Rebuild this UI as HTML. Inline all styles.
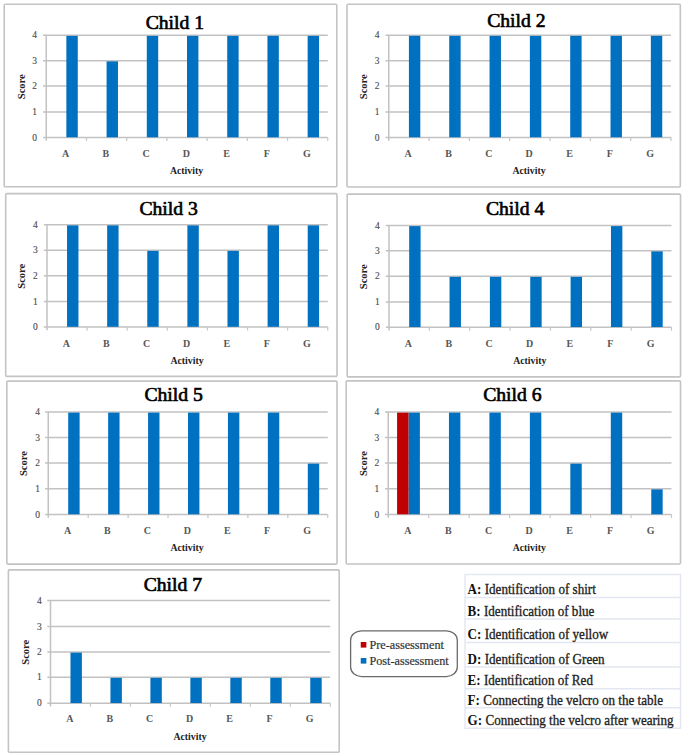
<!DOCTYPE html>
<html lang="en"><head><meta charset="utf-8"><title>Assessment scores per child</title>
<style>
html,body{margin:0;padding:0;background:#fff;}
body{width:685px;height:756px;overflow:hidden;}
svg{display:block;}
text{font-family:"Liberation Serif","DejaVu Serif",serif;}
.t{font-size:19.7px;fill:#000;stroke:#000;stroke-width:0.65;}
.c{font-weight:bold;font-size:10px;fill:#575757;text-anchor:middle;}
.a{font-weight:bold;font-size:9.8px;fill:#222;text-anchor:middle;}
.s{font-weight:bold;font-size:10.5px;fill:#222;text-anchor:middle;}
.y{font-size:9.5px;fill:#4a4a4a;stroke:#4a4a4a;stroke-width:0.12;text-anchor:middle;}
.g{stroke:#c2c2c2;stroke-width:1.5;fill:none;}
.k2{stroke:#c6c6c6;stroke-width:1.2;fill:none;}
.b{fill:#fff;stroke:#c4c4c4;stroke-width:1.6;}
.l{font-size:12.2px;fill:#333;stroke:#333;stroke-width:0.2;}
.k{font-size:13.1px;fill:#222;stroke:#222;stroke-width:0.3;}
.k tspan{font-weight:bold;fill:#111;stroke:none;}
.tb{stroke:#e3e7f1;stroke-width:1.4;fill:none;}
</style></head><body>
<svg width="685" height="756" viewBox="0 0 685 756">
<rect x="0" y="0" width="685" height="756" fill="#fff"/>
<g>
<rect class="b" x="4.2" y="4.3" width="332.60" height="182.50" rx="1" ry="1"/>
<path class="g" d="M43.05 35.25H327.75"/>
<path class="g" d="M43.05 60.75H327.75"/>
<path class="g" d="M43.05 86H327.75"/>
<path class="g" d="M43.05 112H327.75"/>
<path class="g" d="M43.05 137.5H327.75"/>
<path class="g" d="M46.25 35.25V140.7"/>
<path class="k2" d="M86.46 137.5v3.4"/>
<path class="k2" d="M126.68 137.5v3.4"/>
<path class="k2" d="M166.89 137.5v3.4"/>
<path class="k2" d="M207.11 137.5v3.4"/>
<path class="k2" d="M247.32 137.5v3.4"/>
<path class="k2" d="M287.54 137.5v3.4"/>
<path class="k2" d="M327.75 137.5v3.4"/>
<rect x="66.36" y="35.85" width="11.4" height="101.45" fill="#0070c0"/>
<rect x="106.57" y="61.35" width="11.4" height="75.95" fill="#0070c0"/>
<rect x="146.79" y="35.85" width="11.4" height="101.45" fill="#0070c0"/>
<rect x="187.00" y="35.85" width="11.4" height="101.45" fill="#0070c0"/>
<rect x="227.21" y="35.85" width="11.4" height="101.45" fill="#0070c0"/>
<rect x="267.43" y="35.85" width="11.4" height="101.45" fill="#0070c0"/>
<rect x="307.64" y="35.85" width="11.4" height="101.45" fill="#0070c0"/>
<text class="y" x="34.6" y="38.35">4</text>
<text class="y" x="34.6" y="63.85">3</text>
<text class="y" x="34.6" y="89.10">2</text>
<text class="y" x="34.6" y="115.10">1</text>
<text class="y" x="34.6" y="140.60">0</text>
<text class="c" x="65.66" y="156.5">A</text>
<text class="c" x="105.87" y="156.5">B</text>
<text class="c" x="146.09" y="156.5">C</text>
<text class="c" x="186.30" y="156.5">D</text>
<text class="c" x="226.51" y="156.5">E</text>
<text class="c" x="266.73" y="156.5">F</text>
<text class="c" x="306.94" y="156.5">G</text>
<text class="a" x="186.5" y="174.25">Activity</text>
<text class="s" transform="translate(24.65 86.775) rotate(-90)">Score</text>
<text class="t" x="145.65" y="28.75">Child 1</text>
</g>
<g>
<rect class="b" x="347.0" y="4.3" width="333.30" height="182.70" rx="1" ry="1"/>
<path class="g" d="M385.55 35.25H671"/>
<path class="g" d="M385.55 60.75H671"/>
<path class="g" d="M385.55 86H671"/>
<path class="g" d="M385.55 112H671"/>
<path class="g" d="M385.55 137.5H671"/>
<path class="g" d="M388.75 35.25V140.7"/>
<path class="k2" d="M429.07 137.5v3.4"/>
<path class="k2" d="M469.39 137.5v3.4"/>
<path class="k2" d="M509.71 137.5v3.4"/>
<path class="k2" d="M550.04 137.5v3.4"/>
<path class="k2" d="M590.36 137.5v3.4"/>
<path class="k2" d="M630.68 137.5v3.4"/>
<path class="k2" d="M671.00 137.5v3.4"/>
<rect x="408.91" y="35.85" width="11.4" height="101.45" fill="#0070c0"/>
<rect x="449.23" y="35.85" width="11.4" height="101.45" fill="#0070c0"/>
<rect x="489.55" y="35.85" width="11.4" height="101.45" fill="#0070c0"/>
<rect x="529.88" y="35.85" width="11.4" height="101.45" fill="#0070c0"/>
<rect x="570.20" y="35.85" width="11.4" height="101.45" fill="#0070c0"/>
<rect x="610.52" y="35.85" width="11.4" height="101.45" fill="#0070c0"/>
<rect x="650.84" y="35.85" width="11.4" height="101.45" fill="#0070c0"/>
<text class="y" x="377" y="38.35">4</text>
<text class="y" x="377" y="63.85">3</text>
<text class="y" x="377" y="89.10">2</text>
<text class="y" x="377" y="115.10">1</text>
<text class="y" x="377" y="140.60">0</text>
<text class="c" x="408.21" y="156.5">A</text>
<text class="c" x="448.53" y="156.5">B</text>
<text class="c" x="488.85" y="156.5">C</text>
<text class="c" x="529.17" y="156.5">D</text>
<text class="c" x="569.50" y="156.5">E</text>
<text class="c" x="609.82" y="156.5">F</text>
<text class="c" x="650.14" y="156.5">G</text>
<text class="a" x="529" y="174.25">Activity</text>
<text class="s" transform="translate(367.15 86.775) rotate(-90)">Score</text>
<text class="t" x="487.15" y="26.5">Child 2</text>
</g>
<g>
<rect class="b" x="5.7" y="193.6" width="331.30" height="182.80" rx="1" ry="1"/>
<path class="g" d="M43.8 224.75H327.75"/>
<path class="g" d="M43.8 250.25H327.75"/>
<path class="g" d="M43.8 275.75H327.75"/>
<path class="g" d="M43.8 301.5H327.75"/>
<path class="g" d="M43.8 327H327.75"/>
<path class="g" d="M47 224.75V330.2"/>
<path class="k2" d="M87.11 327v3.4"/>
<path class="k2" d="M127.21 327v3.4"/>
<path class="k2" d="M167.32 327v3.4"/>
<path class="k2" d="M207.43 327v3.4"/>
<path class="k2" d="M247.54 327v3.4"/>
<path class="k2" d="M287.64 327v3.4"/>
<path class="k2" d="M327.75 327v3.4"/>
<rect x="67.05" y="225.35" width="11.4" height="101.45" fill="#0070c0"/>
<rect x="107.16" y="225.35" width="11.4" height="101.45" fill="#0070c0"/>
<rect x="147.27" y="250.85" width="11.4" height="75.95" fill="#0070c0"/>
<rect x="187.38" y="225.35" width="11.4" height="101.45" fill="#0070c0"/>
<rect x="227.48" y="250.85" width="11.4" height="75.95" fill="#0070c0"/>
<rect x="267.59" y="225.35" width="11.4" height="101.45" fill="#0070c0"/>
<rect x="307.70" y="225.35" width="11.4" height="101.45" fill="#0070c0"/>
<text class="y" x="35.3" y="227.85">4</text>
<text class="y" x="35.3" y="253.35">3</text>
<text class="y" x="35.3" y="278.85">2</text>
<text class="y" x="35.3" y="304.60">1</text>
<text class="y" x="35.3" y="330.10">0</text>
<text class="c" x="66.35" y="346.5">A</text>
<text class="c" x="106.46" y="346.5">B</text>
<text class="c" x="146.57" y="346.5">C</text>
<text class="c" x="186.68" y="346.5">D</text>
<text class="c" x="226.78" y="346.5">E</text>
<text class="c" x="266.89" y="346.5">F</text>
<text class="c" x="307.00" y="346.5">G</text>
<text class="a" x="187" y="363.5">Activity</text>
<text class="s" transform="translate(25.4 276.275) rotate(-90)">Score</text>
<text class="t" x="139.40" y="215.25">Child 3</text>
</g>
<g>
<rect class="b" x="347.2" y="194.1" width="333.30" height="182.80" rx="1" ry="1"/>
<path class="g" d="M385.8 225.5H671.5"/>
<path class="g" d="M385.8 250.75H671.5"/>
<path class="g" d="M385.8 276.25H671.5"/>
<path class="g" d="M385.8 302H671.5"/>
<path class="g" d="M385.8 327.25H671.5"/>
<path class="g" d="M389 225.5V330.45"/>
<path class="k2" d="M429.36 327.25v3.4"/>
<path class="k2" d="M469.71 327.25v3.4"/>
<path class="k2" d="M510.07 327.25v3.4"/>
<path class="k2" d="M550.43 327.25v3.4"/>
<path class="k2" d="M590.79 327.25v3.4"/>
<path class="k2" d="M631.14 327.25v3.4"/>
<path class="k2" d="M671.50 327.25v3.4"/>
<rect x="409.18" y="226.10" width="11.4" height="100.95" fill="#0070c0"/>
<rect x="449.54" y="276.85" width="11.4" height="50.20" fill="#0070c0"/>
<rect x="489.89" y="276.85" width="11.4" height="50.20" fill="#0070c0"/>
<rect x="530.25" y="276.85" width="11.4" height="50.20" fill="#0070c0"/>
<rect x="570.61" y="276.85" width="11.4" height="50.20" fill="#0070c0"/>
<rect x="610.96" y="226.10" width="11.4" height="100.95" fill="#0070c0"/>
<rect x="651.32" y="251.35" width="11.4" height="75.70" fill="#0070c0"/>
<text class="y" x="377.3" y="228.60">4</text>
<text class="y" x="377.3" y="253.85">3</text>
<text class="y" x="377.3" y="279.35">2</text>
<text class="y" x="377.3" y="305.10">1</text>
<text class="y" x="377.3" y="330.35">0</text>
<text class="c" x="408.48" y="347">A</text>
<text class="c" x="448.84" y="347">B</text>
<text class="c" x="489.19" y="347">C</text>
<text class="c" x="529.55" y="347">D</text>
<text class="c" x="569.91" y="347">E</text>
<text class="c" x="610.26" y="347">F</text>
<text class="c" x="650.62" y="347">G</text>
<text class="a" x="529.75" y="364">Activity</text>
<text class="s" transform="translate(367.4 276.775) rotate(-90)">Score</text>
<text class="t" x="485.90" y="214.75">Child 4</text>
</g>
<g>
<rect class="b" x="6.85" y="381.1" width="330.15" height="183.00" rx="1" ry="1"/>
<path class="g" d="M45.05 412H327.75"/>
<path class="g" d="M45.05 437.5H327.75"/>
<path class="g" d="M45.05 463H327.75"/>
<path class="g" d="M45.05 488.75H327.75"/>
<path class="g" d="M45.05 514.5H327.75"/>
<path class="g" d="M48.25 412V517.7"/>
<path class="k2" d="M88.18 514.5v3.4"/>
<path class="k2" d="M128.11 514.5v3.4"/>
<path class="k2" d="M168.04 514.5v3.4"/>
<path class="k2" d="M207.96 514.5v3.4"/>
<path class="k2" d="M247.89 514.5v3.4"/>
<path class="k2" d="M287.82 514.5v3.4"/>
<path class="k2" d="M327.75 514.5v3.4"/>
<rect x="68.21" y="412.60" width="11.4" height="101.70" fill="#0070c0"/>
<rect x="108.14" y="412.60" width="11.4" height="101.70" fill="#0070c0"/>
<rect x="148.07" y="412.60" width="11.4" height="101.70" fill="#0070c0"/>
<rect x="188.00" y="412.60" width="11.4" height="101.70" fill="#0070c0"/>
<rect x="227.93" y="412.60" width="11.4" height="101.70" fill="#0070c0"/>
<rect x="267.86" y="412.60" width="11.4" height="101.70" fill="#0070c0"/>
<rect x="307.79" y="463.60" width="11.4" height="50.70" fill="#0070c0"/>
<text class="y" x="37.5" y="415.10">4</text>
<text class="y" x="37.5" y="440.60">3</text>
<text class="y" x="37.5" y="466.10">2</text>
<text class="y" x="37.5" y="491.85">1</text>
<text class="y" x="37.5" y="517.60">0</text>
<text class="c" x="67.51" y="534">A</text>
<text class="c" x="107.44" y="534">B</text>
<text class="c" x="147.37" y="534">C</text>
<text class="c" x="187.30" y="534">D</text>
<text class="c" x="227.23" y="534">E</text>
<text class="c" x="267.16" y="534">F</text>
<text class="c" x="307.09" y="534">G</text>
<text class="a" x="187" y="551">Activity</text>
<text class="s" transform="translate(27.15 463.65) rotate(-90)">Score</text>
<text class="t" x="144.40" y="401">Child 5</text>
</g>
<g>
<rect class="b" x="346.2" y="380.9" width="334.30" height="183.10" rx="1" ry="1"/>
<path class="g" d="M385.05 412H671.5"/>
<path class="g" d="M385.05 437.5H671.5"/>
<path class="g" d="M385.05 463H671.5"/>
<path class="g" d="M385.05 488.75H671.5"/>
<path class="g" d="M385.05 514.5H671.5"/>
<path class="g" d="M388.25 412V517.7"/>
<path class="k2" d="M428.71 514.5v3.4"/>
<path class="k2" d="M469.18 514.5v3.4"/>
<path class="k2" d="M509.64 514.5v3.4"/>
<path class="k2" d="M550.11 514.5v3.4"/>
<path class="k2" d="M590.57 514.5v3.4"/>
<path class="k2" d="M631.04 514.5v3.4"/>
<path class="k2" d="M671.50 514.5v3.4"/>
<rect x="408.48" y="412.60" width="11.4" height="101.70" fill="#0070c0"/>
<rect x="397.08" y="412.60" width="11.4" height="101.70" fill="#c00000"/>
<rect x="448.95" y="412.60" width="11.4" height="101.70" fill="#0070c0"/>
<rect x="489.41" y="412.60" width="11.4" height="101.70" fill="#0070c0"/>
<rect x="529.88" y="412.60" width="11.4" height="101.70" fill="#0070c0"/>
<rect x="570.34" y="463.60" width="11.4" height="50.70" fill="#0070c0"/>
<rect x="610.80" y="412.60" width="11.4" height="101.70" fill="#0070c0"/>
<rect x="651.27" y="489.35" width="11.4" height="24.95" fill="#0070c0"/>
<text class="y" x="376.8" y="415.10">4</text>
<text class="y" x="376.8" y="440.60">3</text>
<text class="y" x="376.8" y="466.10">2</text>
<text class="y" x="376.8" y="491.85">1</text>
<text class="y" x="376.8" y="517.60">0</text>
<text class="c" x="407.78" y="534">A</text>
<text class="c" x="448.25" y="534">B</text>
<text class="c" x="488.71" y="534">C</text>
<text class="c" x="529.17" y="534">D</text>
<text class="c" x="569.64" y="534">E</text>
<text class="c" x="610.10" y="534">F</text>
<text class="c" x="650.57" y="534">G</text>
<text class="a" x="529.25" y="551">Activity</text>
<text class="s" transform="translate(366.9 463.65) rotate(-90)">Score</text>
<text class="t" x="483.15" y="400.5">Child 6</text>
</g>
<g>
<rect class="b" x="8.4" y="569.9" width="330.80" height="182.40" rx="1" ry="1"/>
<path class="g" d="M47.3 600.5H330.25"/>
<path class="g" d="M47.3 626.5H330.25"/>
<path class="g" d="M47.3 652H330.25"/>
<path class="g" d="M47.3 677.25H330.25"/>
<path class="g" d="M47.3 703.25H330.25"/>
<path class="g" d="M50.5 600.5V706.45"/>
<path class="k2" d="M90.46 703.25v3.4"/>
<path class="k2" d="M130.43 703.25v3.4"/>
<path class="k2" d="M170.39 703.25v3.4"/>
<path class="k2" d="M210.36 703.25v3.4"/>
<path class="k2" d="M250.32 703.25v3.4"/>
<path class="k2" d="M290.29 703.25v3.4"/>
<path class="k2" d="M330.25 703.25v3.4"/>
<rect x="70.48" y="652.60" width="11.4" height="50.45" fill="#0070c0"/>
<rect x="110.45" y="677.85" width="11.4" height="25.20" fill="#0070c0"/>
<rect x="150.41" y="677.85" width="11.4" height="25.20" fill="#0070c0"/>
<rect x="190.38" y="677.85" width="11.4" height="25.20" fill="#0070c0"/>
<rect x="230.34" y="677.85" width="11.4" height="25.20" fill="#0070c0"/>
<rect x="270.30" y="677.85" width="11.4" height="25.20" fill="#0070c0"/>
<rect x="310.27" y="677.85" width="11.4" height="25.20" fill="#0070c0"/>
<text class="y" x="39.25" y="603.60">4</text>
<text class="y" x="39.25" y="629.60">3</text>
<text class="y" x="39.25" y="655.10">2</text>
<text class="y" x="39.25" y="680.35">1</text>
<text class="y" x="39.25" y="706.35">0</text>
<text class="c" x="69.78" y="722">A</text>
<text class="c" x="109.75" y="722">B</text>
<text class="c" x="149.71" y="722">C</text>
<text class="c" x="189.68" y="722">D</text>
<text class="c" x="229.64" y="722">E</text>
<text class="c" x="269.60" y="722">F</text>
<text class="c" x="309.57" y="722">G</text>
<text class="a" x="190" y="739.5">Activity</text>
<text class="s" transform="translate(29.15 652.275) rotate(-90)">Score</text>
<text class="t" x="143.65" y="591.25">Child 7</text>
</g>
<rect x="350.6" y="630.8" width="106.7" height="45.8" rx="11" ry="9.5" fill="#fff" stroke="#6a6a6a" stroke-width="1.3"/>
<rect x="360.75" y="642" width="5.6" height="5.6" fill="#c00000"/>
<rect x="360.75" y="658" width="5.6" height="5.6" fill="#0070c0"/>
<text class="l" x="369.5" y="648.75">Pre-assessment</text>
<text class="l" x="369.5" y="664.5">Post-assessment</text>
<rect class="tb" x="465" y="574.5" width="215.5" height="153.75"/>
<path class="tb" d="M465 597.5H680.5"/>
<path class="tb" d="M465 619H680.5"/>
<path class="tb" d="M465 642.5H680.5"/>
<path class="tb" d="M465 667H680.5"/>
<path class="tb" d="M465 688.75H680.5"/>
<path class="tb" d="M465 707.75H680.5"/>
<text class="k" transform="translate(467.6 594.30) scale(1 1.07)"><tspan>A:</tspan> Identification of shirt</text>
<text class="k" transform="translate(467.6 616.05) scale(1 1.07)"><tspan>B:</tspan> Identification of blue</text>
<text class="k" transform="translate(467.6 639.30) scale(1 1.07)"><tspan>C:</tspan> Identification of yellow</text>
<text class="k" transform="translate(467.6 664.05) scale(1 1.07)"><tspan>D:</tspan> Identification of Green</text>
<text class="k" transform="translate(467.6 685.30) scale(1 1.07)"><tspan>E:</tspan> Identification of Red</text>
<text class="k" transform="translate(467.6 704.80) scale(1 1.07)"><tspan>F:</tspan> Connecting the velcro on the table</text>
<text class="k" transform="translate(467.6 725.30) scale(1 1.07)"><tspan>G:</tspan> Connecting the velcro after wearing</text>
</svg></body></html>
